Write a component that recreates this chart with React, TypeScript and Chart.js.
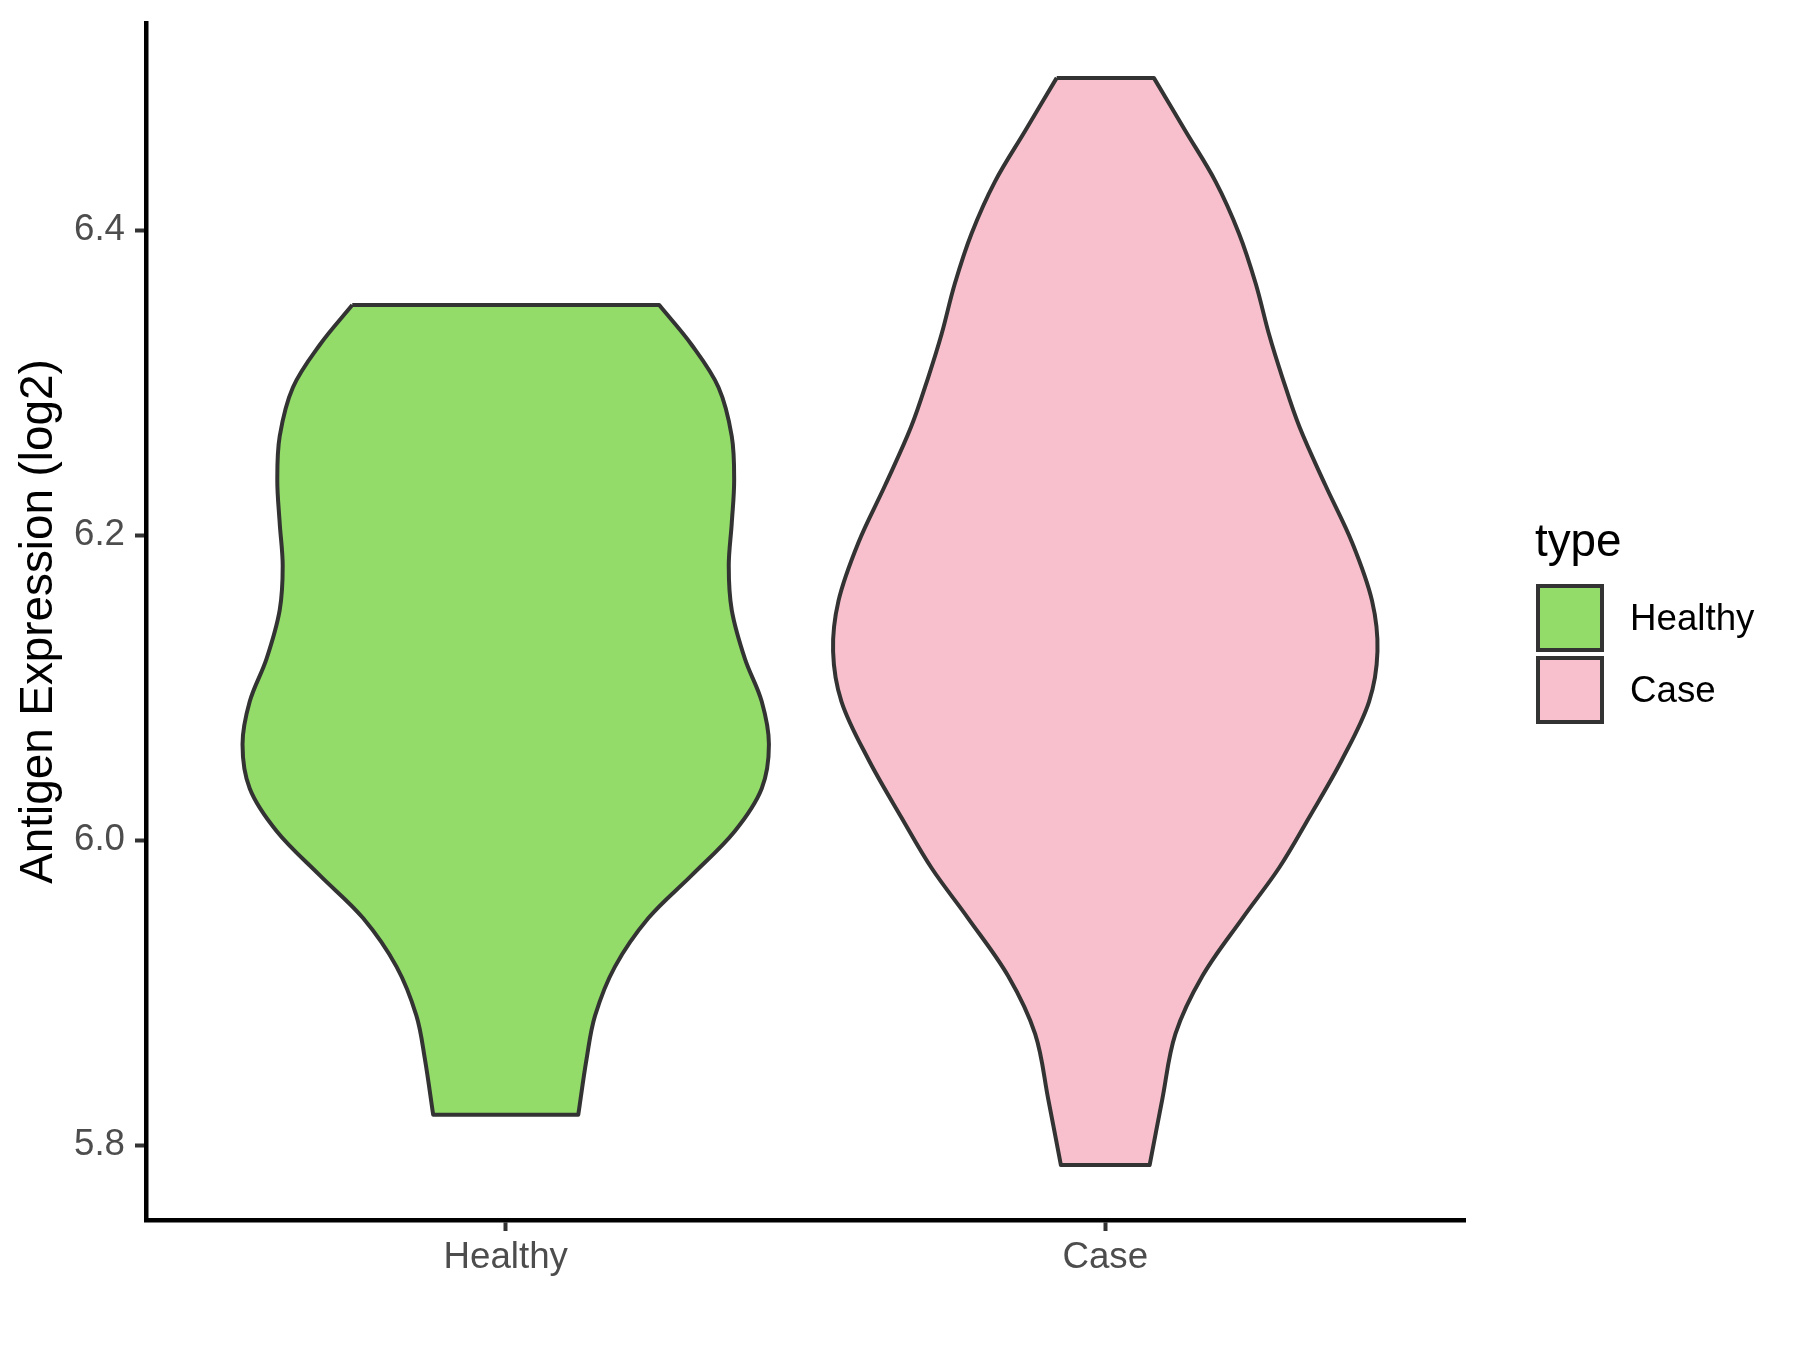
import React, { useEffect, useRef } from "react";
import { Chart, registerables } from "chart.js";

Chart.register(...registerables);

// ---- data ----
const categories = ["Healthy", "Case"];
const fillColors = ["#93DC6A", "#F7C0CC"];
const outlineColor = "#333333";

// violin outline (value on y axis, half-width in x-axis units)
const healthyValues = [6.351, 6.325, 6.297, 6.265, 6.236, 6.208, 6.180, 6.151, 6.119, 6.091, 6.063, 6.034, 6.006, 5.977, 5.949, 5.917, 5.885, 5.857, 5.820];
const healthyHalfWidths = [0.256, 0.310, 0.355, 0.377, 0.381, 0.377, 0.372, 0.377, 0.399, 0.427, 0.439, 0.427, 0.382, 0.310, 0.238, 0.182, 0.149, 0.135, 0.121];

const caseValues = [6.500, 6.465, 6.432, 6.398, 6.365, 6.332, 6.304, 6.271, 6.233, 6.195, 6.157, 6.124, 6.091, 6.053, 6.015, 5.982, 5.949, 5.911, 5.873, 5.830, 5.787];
const caseHalfWidths = [0.081, 0.134, 0.184, 0.223, 0.251, 0.273, 0.295, 0.324, 0.367, 0.412, 0.445, 0.454, 0.440, 0.395, 0.340, 0.290, 0.229, 0.162, 0.117, 0.095, 0.074];

const yTicks = [5.8, 6.0, 6.2, 6.4];
const yMin = 5.751;
const yMax = 6.536;
const xMin = 0.4;
const xMax = 2.6;

const yTitle = "Antigen Expression (log2)";
const legendTitle = "type";

const FONT = "'Liberation Sans', Arial, Helvetica, sans-serif";

// closed outline; corner points are repeated so the flat ends stay straight and sharp
function violinPolygon(pos: number, values: number[], hw: number[]) {
  const n = values.length;
  const pts: { x: number; y: number }[] = [];
  for (let i = 0; i < n; i++) pts.push({ x: pos - hw[i], y: values[i] });
  pts.push({ x: pos - hw[n - 1], y: values[n - 1] });
  pts.push({ x: pos + hw[n - 1], y: values[n - 1] });
  for (let i = n - 1; i >= 0; i--) pts.push({ x: pos + hw[i], y: values[i] });
  pts.push({ x: pos + hw[0], y: values[0] });
  pts.push({ x: pos - hw[0], y: values[0] });
  return pts;
}

const legendPlugin = {
  id: "ggLegend",
  afterDraw(chart: any) {
    const ctx = chart.ctx;
    ctx.save();
    ctx.fillStyle = "#000";
    ctx.font = `45.8px ${FONT}`;
    ctx.textAlign = "left";
    ctx.textBaseline = "alphabetic";
    ctx.fillText(legendTitle, 1535, 556);
    const keyX = 1538;
    const keyY0 = 586;
    const keySize = 64;
    const keyStep = 72;
    categories.forEach((c, i) => {
      const y = keyY0 + i * keyStep;
      ctx.fillStyle = fillColors[i];
      ctx.fillRect(keyX, y, keySize, keySize);
      ctx.strokeStyle = outlineColor;
      ctx.lineWidth = 4;
      ctx.strokeRect(keyX, y, keySize, keySize);
      ctx.fillStyle = "#000";
      ctx.font = `36.7px ${FONT}`;
      ctx.textBaseline = "middle";
      ctx.fillText(c, 1630, y + keySize / 2 + 2);
    });
    ctx.restore();
  },
};

export default function App() {
  const ref = useRef<HTMLCanvasElement | null>(null);

  useEffect(() => {
    document.body.style.margin = "0";
    const canvas = ref.current;
    if (!canvas) return;

    const mk = (i: number, values: number[], hw: number[]) => ({
      label: categories[i],
      data: violinPolygon(i + 1, values, hw),
      backgroundColor: fillColors[i],
      borderColor: outlineColor,
      borderWidth: 4,
      borderJoinStyle: "round",
      fill: "shape",
      showLine: true,
      pointRadius: 0,
      tension: 0.35,
    });

    const datasets = [
      mk(0, healthyValues, healthyHalfWidths),
      mk(1, caseValues, caseHalfWidths),
    ];

    const chart = new Chart(canvas, {
      type: "scatter",
      data: { datasets: datasets as any },
      options: {
        animation: false,
        responsive: false,
        maintainAspectRatio: false,
        layout: { padding: { top: 23, right: 335, bottom: 0, left: 0 } },
        plugins: {
          legend: { display: false },
          tooltip: { enabled: false },
        },
        scales: {
          x: {
            type: "linear",
            min: xMin,
            max: xMax,
            afterBuildTicks: (scale: any) => {
              scale.ticks = categories.map((_, i) => ({ value: i + 1 }));
            },
            afterFit: (scale: any) => {
              scale.height = 130;
              scale.paddingLeft = 0;
              scale.paddingRight = 0;
            },
            ticks: {
              callback: (v: any) => categories[Math.round(Number(v)) - 1] ?? "",
              color: "#4d4d4d",
              font: { family: FONT, size: 36.7 },
              padding: 5,
              maxRotation: 0,
              autoSkip: false,
            },
            grid: {
              drawOnChartArea: false,
              drawTicks: true,
              tickLength: 11,
              tickColor: "#333333",
              tickWidth: 4,
            },
            border: { display: true, color: "#000", width: 4.5 },
          },
          y: {
            type: "linear",
            min: yMin,
            max: yMax,
            afterBuildTicks: (scale: any) => {
              scale.ticks = yTicks.map((v) => ({ value: v }));
            },
            afterFit: (scale: any) => {
              scale.width = 146;
              scale.paddingTop = 0;
              scale.paddingBottom = 0;
            },
            ticks: {
              callback: (v: any) => Number(v).toFixed(1),
              color: "#4d4d4d",
              font: { family: FONT, size: 36.7 },
              padding: 10,
            },
            grid: {
              drawOnChartArea: false,
              drawTicks: true,
              tickLength: 11,
              tickColor: "#333333",
              tickWidth: 4,
            },
            border: { display: true, color: "#000", width: 4.5 },
            title: {
              display: true,
              text: yTitle,
              color: "#000",
              font: { family: FONT, size: 45.8 },
              padding: { top: 12, bottom: 0 },
            },
          },
        },
      },
      plugins: [legendPlugin],
    });

    return () => chart.destroy();
  }, []);

  return (
    <canvas
      ref={ref}
      width={1800}
      height={1350}
      style={{ display: "block", width: 1800, height: 1350 }}
    />
  );
}
